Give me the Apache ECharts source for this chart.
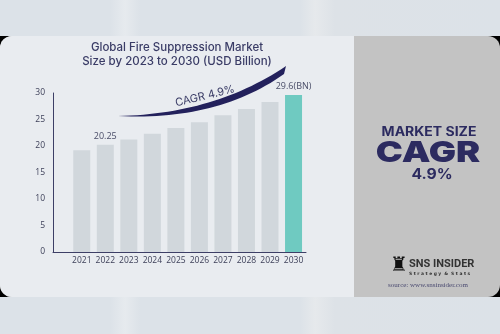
<!DOCTYPE html>
<html><head><meta charset="utf-8">
<script src="https://cdn.jsdelivr.net/npm/echarts@6/dist/echarts.min.js"></script>
<style>
html,body{margin:0;padding:0;}
#wrap{position:relative;width:500px;height:334px;overflow:hidden;
 background:linear-gradient(90deg,#dce2e8 0%,#dce2e8 22%,#e6eaee 25%,#dce2e8 28%,#dce2e8 60%,#e6e9ec 63%,#dde2e7 67%,#dce2e8 100%);}
#black{position:absolute;left:0;top:36px;width:500px;height:261px;background:#000;}
#card{position:absolute;left:0;top:36px;width:500px;height:261px;border-radius:12px;background:#c3c3c3;overflow:hidden;}
#leftp{position:absolute;left:0;top:0;width:354px;height:261px;background:#e9ecf0;}
#chart{position:absolute;left:0;top:0;width:500px;height:334px;}
</style></head>
<body>
<div id="wrap">
<div id="black"></div>
<div id="card"><div id="leftp"></div></div>
<div id="chart"></div>
</div>
<script>
var categories = ['2021','2022','2023','2024','2025','2026','2027','2028','2029','2030'];
var values = [19.2, 20.25, 21.25, 22.3, 23.4, 24.5, 25.8, 27.0, 28.3, 29.6];
var barLabels = ['', '20.25', '', '', '', '', '', '', '', '29.6(BN)'];
var yTicks = [0, 5, 10, 15, 20, 25, 30];

function quad(p0, c, p1, t){
  var u = 1 - t;
  return [u*u*p0[0] + 2*u*t*c[0] + t*t*p1[0], u*u*p0[1] + 2*u*t*c[1] + t*t*p1[1]];
}
function swoosh(){
  var pts = [], i, n = 30;
  for (i = 0; i <= n; i++) pts.push(quad([118,116],[215,114],[286,66], i/n));
  for (i = n; i >= 0; i--) pts.push(quad([118,116],[218,121],[284,74], i/n));
  return pts;
}

var chart = echarts.init(document.getElementById('chart'), null, {renderer:'canvas'});
var data = values.map(function(v,i){
  var item = {value:v, itemStyle:{color: i===values.length-1 ? '#6fcac1' : '#d1d7dc'}};
  if (barLabels[i]) item.label = {show:true, position:'top', distance:4, formatter:barLabels[i],
     color:'#4a4d68', fontSize:9, fontFamily:'Open Sans'};
  return item;
});
chart.setOption({
  backgroundColor:'transparent',
  animation:false,
  grid:[
    {left:70, right:194.7, top:93, bottom:82},
    {left:53, right:194, top:93, bottom:82}
  ],
  xAxis:[
    {type:'category', gridIndex:0, data:categories, axisLine:{show:false}, axisTick:{show:false},
     axisLabel:{interval:0, color:'#3c3f58', fontSize:8.5, fontFamily:'Open Sans', margin:4}},
    {type:'value', gridIndex:1, min:0, max:1, axisLine:{show:true, lineStyle:{color:'#3d3f66', width:1}},
     axisTick:{show:false}, axisLabel:{show:false}, splitLine:{show:false}}
  ],
  yAxis:[
    {type:'value', gridIndex:0, min:0, max:30, interval:5, show:false},
    {type:'value', gridIndex:1, min:yTicks[0], max:yTicks[yTicks.length-1], interval:5,
     axisLine:{show:true, lineStyle:{color:'#3d3f66', width:1}}, axisTick:{show:false},
     splitLine:{show:false},
     axisLabel:{color:'#3c3f58', fontSize:8.5, fontFamily:'Open Sans', margin:8}}
  ],
  series:[{type:'bar', xAxisIndex:0, yAxisIndex:0, data:data, barWidth:17}],
  graphic:[
    {type:'text', style:{text:'Global Fire Suppression Market\nSize by 2023 to 2030 (USD Billion)',
      x:177, y:41, textAlign:'center', fill:'#3a3c66', font:'500 11.5px Inter', lineHeight:14}},
    {type:'polygon', shape:{points:swoosh()}, style:{fill:'#23215c'}},
    {type:'text', x:205, y:96, rotation:0.24, style:{text:'CAGR 4.9%', textAlign:'center', textVerticalAlign:'middle',
      fill:'#3a3c66', font:'11px Inter'}},
    {type:'text', x:429, y:132, scaleX:1.12, style:{text:'MARKET SIZE', x:0, y:0, textAlign:'center', textVerticalAlign:'middle', fill:'#2c2b60', font:'bold 12.5px Inter'}},
    {type:'text', x:428, y:153, scaleX:1.25, style:{text:'CAGR', x:0, y:0, textAlign:'center', textVerticalAlign:'middle', fill:'#2c2b60', font:'900 29px Inter'}},
    {type:'text', x:432, y:175, scaleX:1.12, style:{text:'4.9%', x:0, y:0, textAlign:'center', textVerticalAlign:'middle', fill:'#2c2b60', font:'bold 14px Inter'}},
    {type:'text', style:{text:'\u265C', x:399, y:266, textAlign:'center', textVerticalAlign:'middle', fill:'#111', font:'20px DejaVu Sans'}},
    {type:'text', style:{text:'SNS INSIDER', x:409, y:264, textAlign:'left', textVerticalAlign:'middle', fill:'#333', font:'bold 11px Roboto'}},
    {type:'text', style:{text:'S t r a t e g y  &  S t a t s', x:409, y:273.5, textAlign:'left', textVerticalAlign:'middle', fill:'#333', font:'bold 4.4px DejaVu Sans'}},
    {type:'text', style:{text:'source: www.snsinsider.com', x:428, y:285, textAlign:'center', textVerticalAlign:'middle', fill:'#4a4a70', font:'7px Liberation Serif'}}
  ]
});
</script>
</body></html>
